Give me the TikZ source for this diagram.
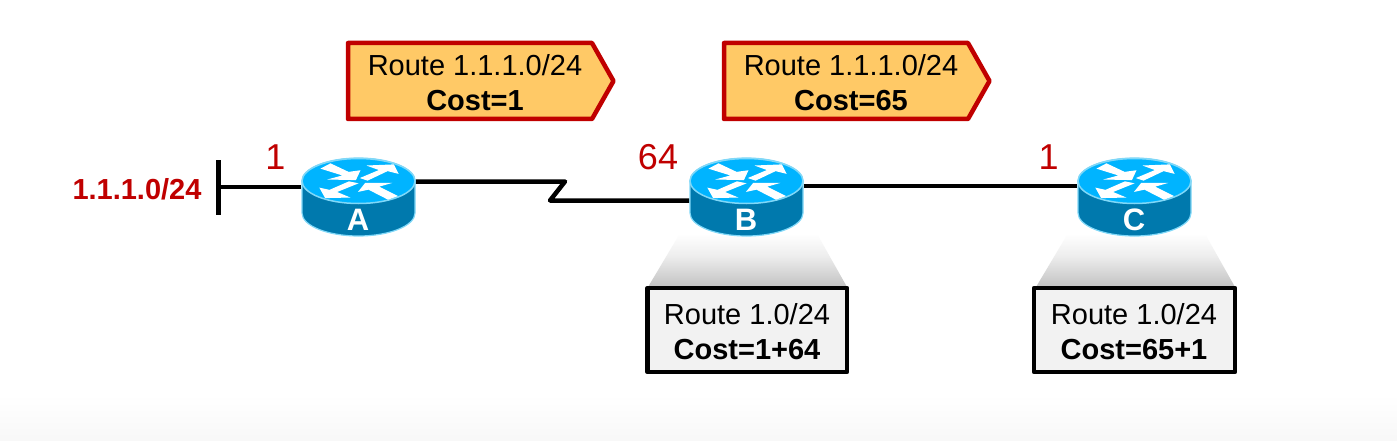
\documentclass[tikz,border=0pt]{standalone}
\usepackage{fontspec}
\setmainfont{Liberation Sans}
\definecolor{cred}{HTML}{C00000}
\definecolor{cfill}{HTML}{FFC966}
\definecolor{rtop}{HTML}{00B4FF}
\definecolor{rside}{HTML}{0079AD}
\definecolor{rrim}{HTML}{80D8F8}
\definecolor{cbox}{HTML}{F2F2F2}
\pgfdeclareverticalshading{zoomfade}{100bp}{color(0bp)=(black!24); color(25bp)=(black!24); color(50bp)=(black!7); color(68bp)=(white); color(100bp)=(white)}
\tikzset{
  x=1pt,y=-1pt,
  link/.style={draw=black,line width=4.5pt,line join=round},
  routernode/.style={inner sep=0pt,minimum width=114pt,minimum height=78pt},
  routerlabel/.style={text=white,font=\fontsize{31}{31}\selectfont\bfseries,inner sep=0pt},
  advert/.style={draw=cred,fill=cfill,line width=4.5pt,line join=round},
  tablebox/.style={draw=black,fill=cbox,line width=4.5pt,line join=round},
  boxtext/.style={align=center,inner sep=0pt,font=\fontsize{29}{35}\selectfont},
  costlabel/.style={text=cred,inner sep=0pt,font=\fontsize{36}{36}\selectfont},
  netlabel/.style={text=cred,inner sep=0pt,font=\fontsize{29}{29}\selectfont\bfseries},
  zoomshade/.style={shading=zoomfade,draw=none},
  arrowglyph/.style={fill=white,draw=white,line width=1.2pt,line join=miter},
  pics/router/.style={code={
    \fill[rside,draw=rrim,line width=1.2pt] (-56.5,0) -- (-56.5,32) arc[start angle=180,end angle=360,x radius=56.5,y radius=-23] -- (56.5,0) arc[start angle=0,end angle=180,x radius=56.5,y radius=-23] -- cycle;
    \fill[rtop,draw=rrim,line width=1.5pt] (0,0) ellipse[x radius=56.5,y radius=22.5];
    \filldraw[arrowglyph] (-36.5,-12.5) -- (-28,-17) -- (-10,-8.5) -- (1,-10) -- (-3,-1.5) -- (-27,-2) -- (-14,-5.5) -- cycle;
    \filldraw[arrowglyph] (3,-3) -- (22,-11) -- (11,-15) -- (35,-16) -- (39,-8) -- (29,-10.5) -- (9,-1) -- cycle;
    \filldraw[arrowglyph] (-38,7.5) -- (-33,16.5) -- (-11,16) -- (-23,11) -- (-2,2.5) -- (-9.5,1) -- (-29,9.5) -- cycle;
    \filldraw[arrowglyph] (1,10) -- (7,2.5) -- (29.5,2.5) -- (19,5.5) -- (38,15) -- (29.5,18) -- (10,8) -- cycle;
  }}
}
\begin{document}
\begin{tikzpicture}
\useasboundingbox (0,0) rectangle (1397,441);
\fill[white] (0,0) rectangle (1397,441);
\shade[top color=white,bottom color=white!97!black,draw=none] (0,395) rectangle (1397,441);

% router anchors
\node[routernode] (A) at (358.5,197) {};
\node[routernode] (B) at (746.5,197) {};
\node[routernode] (C) at (1134.5,197) {};

% network stub
\coordinate (netT) at (218.5,160);
\coordinate (netB) at (218.5,215);
\coordinate (netM) at (218.5,187);
\draw[link] (netT) -- (netB);
\draw[link] (netM) -- ([yshift=10pt]A.west);

% serial link
\coordinate (zigR) at (565,181.5);
\coordinate (zigL) at (550,200.5);
\draw[link] ([yshift=15.5pt]A.east) -- (zigR) -- (zigL) -- ([yshift=-3.5pt]B.west);

% ethernet link
\draw[link] ([yshift=11pt]B.east) -- ([yshift=11pt]C.west);

% zoom shadows
\path[zoomshade] (685,225) -- (812,225) -- (847,287) -- (648,287) -- cycle;
\path[zoomshade] (1073,225) -- (1200,225) -- (1235,287) -- (1036,287) -- cycle;

% routers
\pic at (358.5,181) {router};
\pic at (746.5,181) {router};
\pic at (1134.5,181) {router};
\node[routerlabel] (Alabel) at (358,220) {A};
\node[routerlabel] (Blabel) at (746,220) {B};
\node[routerlabel] (Clabel) at (1134,220) {C};

% advertisements
\draw[advert] (348,43) -- (592,43) -- (613.5,81) -- (592,119) -- (348,119) -- cycle;
\node[boxtext] (adv1) at (475,83) {Route 1.1.1.0/24\\\textbf{Cost=1}};
\draw[advert] (724,43) -- (968,43) -- (989.5,81) -- (968,119) -- (724,119) -- cycle;
\node[boxtext] (adv2) at (851,83) {Route 1.1.1.0/24\\\textbf{Cost=65}};

% route tables
\draw[tablebox] (647.5,288) rectangle (847,372);
\node[boxtext] (tabB) at (747,332) {Route 1.0/24\\\textbf{Cost=1+64}};
\draw[tablebox] (1034,288) rectangle (1235,372);
\node[boxtext] (tabC) at (1134,332) {Route 1.0/24\\\textbf{Cost=65+1}};

% labels
\node[netlabel] (net) at (137,189) {1.1.1.0/24};
\node[costlabel] (c1) at (275.5,157) {1};
\node[costlabel] (c2) at (658,157) {64};
\node[costlabel] (c3) at (1048.5,157) {1};
\end{tikzpicture}
\end{document}
